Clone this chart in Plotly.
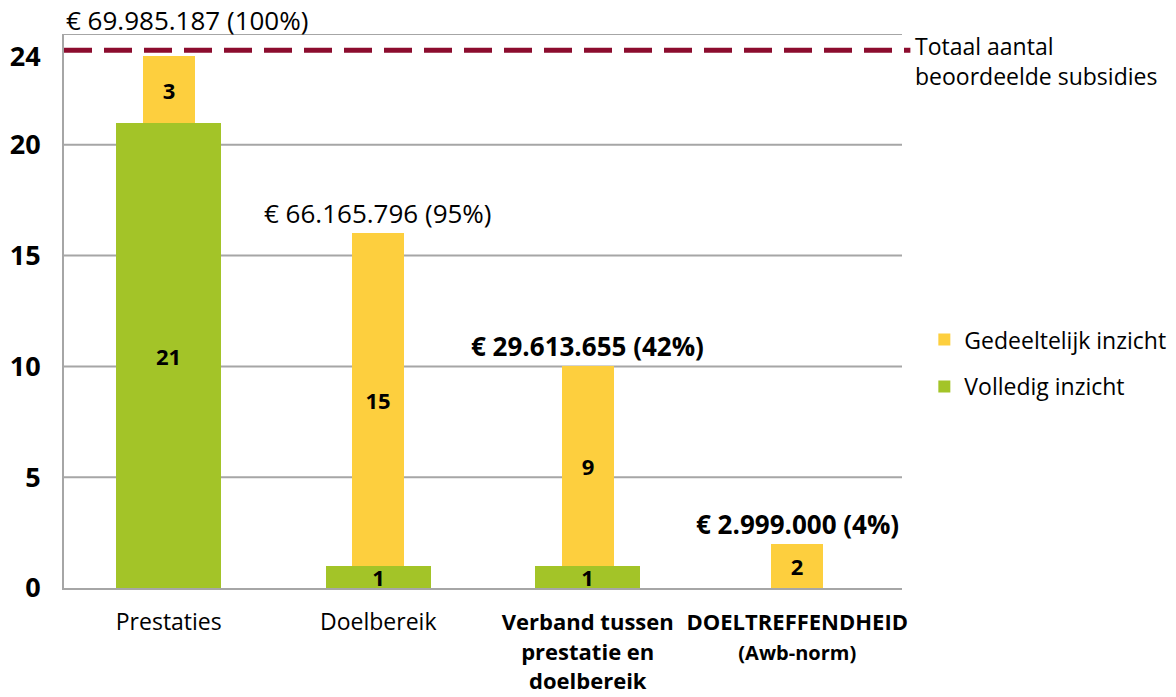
import plotly.graph_objects as go

categories = ["Prestaties", "Doelbereik", "Verband tussen prestatie en doelbereik", "DOELTREFFENDHEID (Awb-norm)"]
tick_labels = [
    "Prestaties",
    "Doelbereik",
    "<b><span style='font-size:22px'>Verband tussen<br>prestatie en<br>doelbereik</span></b>",
    "<b><span style='font-size:22px'>DOELTREFFENDHEID</span></b><br><b><span style='font-size:20px'>(Awb-norm)</span></b>",
]
volledig = [21, 1, 1, 0]
gedeeltelijk = [3, 15, 9, 2]
amounts = ["€ 69.985.187 (100%)", "€ 66.165.796 (95%)", "€ 29.613.655 (42%)", "€ 2.999.000 (4%)"]
amount_bold = [False, False, True, True]
total_line = 24
y_ticks = [0, 5, 10, 15, 20, 24]

FONT = "Open Sans"
GREEN = "#a3c428"
YELLOW = "#fdcf3e"
LINE = "#8c0c2e"
GRID = "#a6a6a6"

fig = go.Figure()
fig.add_trace(go.Bar(
    x=categories, y=volledig, name="Volledig inzicht", width=0.5,
    marker=dict(color=GREEN, line=dict(width=0)),
    text=[str(v) if v else "" for v in volledig],
    textposition="inside", insidetextanchor="middle", constraintext="none", textangle=0,
    textfont=dict(family=FONT, size=22, color="black", weight="bold"),
    legendrank=2, legendgroup="v",
))
fig.add_trace(go.Bar(
    x=categories, y=gedeeltelijk, base=volledig, name="Gedeeltelijk inzicht", width=0.25,
    marker=dict(color=YELLOW, line=dict(width=0)),
    text=[str(v) for v in gedeeltelijk],
    textposition="inside", insidetextanchor="middle", constraintext="none", textangle=0,
    textfont=dict(family=FONT, size=22, color="black", weight="bold"),
    legendrank=1, legendgroup="g",
))

fig.add_shape(type="line", xref="paper", yref="y", x0=0, x1=1.01,
              ysizemode="pixel", yanchor=total_line, y0=6, y1=6,
              line=dict(color=LINE, width=5, dash="28px,12px"))

annotations = []
totals = [a + b for a, b in zip(volledig, gedeeltelijk)]
for i, (cat, amt, bold, tot) in enumerate(zip(categories, amounts, amount_bold, totals)):
    txt = f"<b>{amt}</b>" if bold else amt
    if i == 0:
        annotations.append(dict(x=0, xref="paper", y=25, yref="y", text=txt, showarrow=False,
                                xanchor="left", yanchor="bottom", yshift=-6,
                                font=dict(family=FONT, size=26, color="black")))
    else:
        annotations.append(dict(x=cat, y=tot, text=txt, showarrow=False,
                                xanchor="center", yanchor="bottom", yshift=0,
                                font=dict(family=FONT, size=26, color="black")))
annotations.append(dict(x=1.013, xref="paper", y=total_line, yref="y",
                        text="Totaal aantal<br>beoordeelde subsidies", showarrow=False,
                        xanchor="left", yanchor="middle", yshift=-5, align="left",
                        font=dict(family=FONT, size=23, color="black")))

fig.update_layout(
    width=1176, height=697,
    margin=dict(l=64, r=274, t=34, b=109, autoexpand=False),
    paper_bgcolor="white", plot_bgcolor="white",
    barmode="overlay", bargap=0,
    font=dict(family=FONT, color="black"),
    annotations=annotations,
    legend=dict(xref="container", yref="container", x=0.786, y=0.479,
                xanchor="left", yanchor="middle",
                font=dict(family=FONT, size=23, color="black"),
                itemwidth=30, traceorder="grouped", tracegroupgap=14,
                bgcolor="rgba(0,0,0,0)"),
    showlegend=True,
)
fig.update_xaxes(
    tickvals=categories, ticktext=tick_labels, tickfont=dict(family=FONT, size=23, color="black"),
    showline=True, linecolor=GRID, linewidth=2, ticks="", showgrid=False, ticklabelstandoff=12,
    tickangle=0, automargin=False,
)
fig.update_yaxes(
    range=[0, 25], tickvals=y_ticks, ticktext=[f"<b>{v}</b>" for v in y_ticks],
    tickfont=dict(family=FONT, size=27, color="black"),
    showgrid=False, showline=True, linecolor=GRID, linewidth=2, ticks="",
    zeroline=False, ticklabelstandoff=16, automargin=False,
)
for g in [5, 10, 15, 20, 25]:
    fig.add_hline(y=g, line=dict(color=GRID, width=2), layer="below")

fig.write_html("out.html")
